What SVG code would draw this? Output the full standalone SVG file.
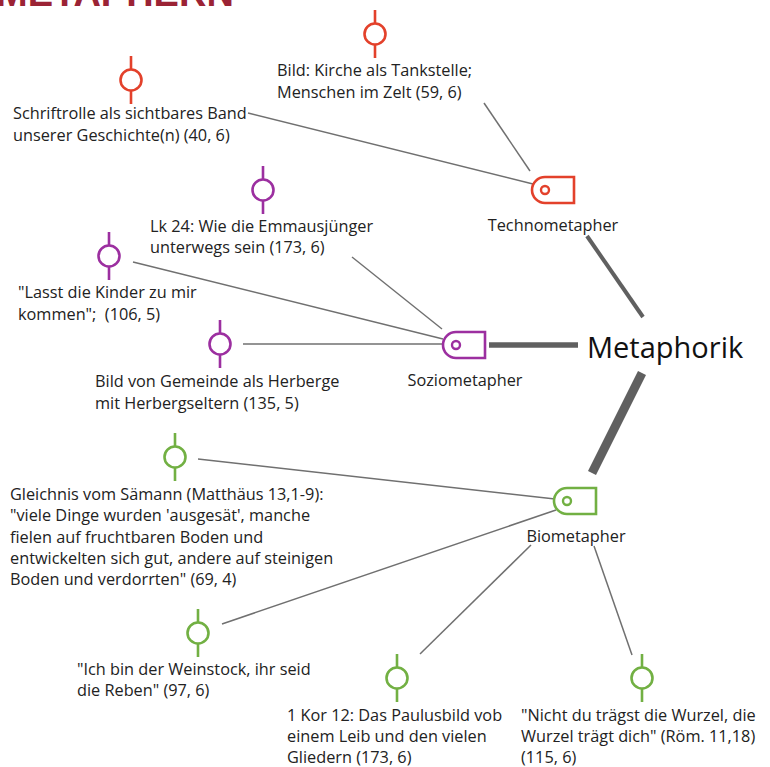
<svg xmlns="http://www.w3.org/2000/svg" width="770" height="767" viewBox="0 0 770 767">
<style>
text{font-family:"Open Sans","Noto Sans","Liberation Sans",sans-serif;font-size:16.3px;fill:#222;stroke:none}
.big{font-size:29px;fill:#111}
.head{font-family:"Liberation Sans",sans-serif;font-weight:bold;font-size:38px;fill:#9b2335}
.ln{stroke:#707070;stroke-width:1.5;fill:none}
.thick{stroke:#606060;fill:none}
.red{stroke:#e3412b}
.pur{stroke:#9c2fa0}
.grn{stroke:#72b043}
.leaf{fill:#fff;stroke-width:2.6}
.tag{fill:#fff;stroke-width:2.6}
</style>
<defs>
<g id="leaf"><line x1="0" y1="-24" x2="0" y2="24" stroke-width="2.6"/><circle cx="0" cy="0" r="10.5" class="leaf"/></g>
<g id="tag"><path d="M13,0 H42 V26 H13 A13,13 0 0 1 13,0 Z" class="tag"/><circle cx="13" cy="13" r="4" fill="none" stroke-width="2.4"/></g>
</defs>
<text class="head" x="-4" y="6">METAPHERN</text>
<g id="connectors">
<line class="thick" x1="489" y1="345" x2="578" y2="345" stroke-width="5.5"/>
<line class="thick" x1="587" y1="236" x2="643" y2="317" stroke-width="4"/>
<line class="thick" x1="642" y1="373" x2="592" y2="473" stroke-width="9"/>
<line class="ln" x1="484" y1="103" x2="530" y2="171"/>
<line class="ln" x1="248" y1="113" x2="533" y2="184"/>
<line class="ln" x1="352" y1="257" x2="442" y2="329"/>
<line class="ln" x1="133" y1="262" x2="443" y2="339"/>
<line class="ln" x1="243" y1="344" x2="443" y2="344"/>
<line class="ln" x1="198" y1="459" x2="555" y2="499"/>
<line class="ln" x1="222" y1="624" x2="556" y2="510"/>
<line class="ln" x1="420" y1="654" x2="531" y2="545"/>
<line class="ln" x1="594" y1="546" x2="632" y2="655"/>
</g>
<g id="metaphorik"><text class="big" x="587" y="358">Metaphorik</text></g>
<g id="technometapher" class="red"><use href="#tag" x="532" y="177"/><text x="553" y="231" text-anchor="middle">Technometapher</text></g>
<g id="soziometapher" class="pur"><use href="#tag" x="443" y="332"/><text x="465" y="386" text-anchor="middle">Soziometapher</text></g>
<g id="biometapher" class="grn"><use href="#tag" x="554" y="488"/><text x="576" y="542" text-anchor="middle">Biometapher</text></g>
<g id="kirche" class="red"><use href="#leaf" x="375" y="34"/><text x="277" y="76">Bild: Kirche als Tankstelle;</text><text x="277" y="98">Menschen im Zelt (59, 6)</text></g>
<g id="schriftrolle" class="red"><use href="#leaf" x="131" y="80"/><text x="13" y="119">Schriftrolle als sichtbares Band</text><text x="13" y="141">unserer Geschichte(n) (40, 6)</text></g>
<g id="emmaus" class="pur"><use href="#leaf" x="263" y="190"/><text x="150" y="232">Lk 24: Wie die Emmausjünger</text><text x="150" y="253">unterwegs sein (173, 6)</text></g>
<g id="kinder" class="pur"><use href="#leaf" x="109" y="256"/><text x="18" y="298">"Lasst die Kinder zu mir</text><text x="18" y="320" xml:space="preserve">kommen";  (106, 5)</text></g>
<g id="herberge" class="pur"><use href="#leaf" x="220" y="344"/><text x="95" y="387">Bild von Gemeinde als Herberge</text><text x="95" y="409">mit Herbergseltern (135, 5)</text></g>
<g id="saemann" class="grn"><use href="#leaf" x="175" y="457"/><text x="10" y="500">Gleichnis vom Sämann (Matthäus 13,1-9):</text><text x="10" y="521">"viele Dinge wurden 'ausgesät', manche</text><text x="10" y="543">fielen auf fruchtbaren Boden und</text><text x="10" y="564">entwickelten sich gut, andere auf steinigen</text><text x="10" y="585">Boden und verdorrten" (69, 4)</text></g>
<g id="weinstock" class="grn"><use href="#leaf" x="198" y="633"/><text x="77" y="675">"Ich bin der Weinstock, ihr seid</text><text x="77" y="696">die Reben" (97, 6)</text></g>
<g id="leib" class="grn"><use href="#leaf" x="397" y="678"/><text x="287" y="721">1 Kor 12: Das Paulusbild vob</text><text x="287" y="742">einem Leib und den vielen</text><text x="287" y="763">Gliedern (173, 6)</text></g>
<g id="wurzel" class="grn"><use href="#leaf" x="642" y="678"/><text x="521" y="721">"Nicht du trägst die Wurzel, die</text><text x="521" y="742">Wurzel trägt dich" (Röm. 11,18)</text><text x="521" y="763">(115, 6)</text></g>
</svg>
